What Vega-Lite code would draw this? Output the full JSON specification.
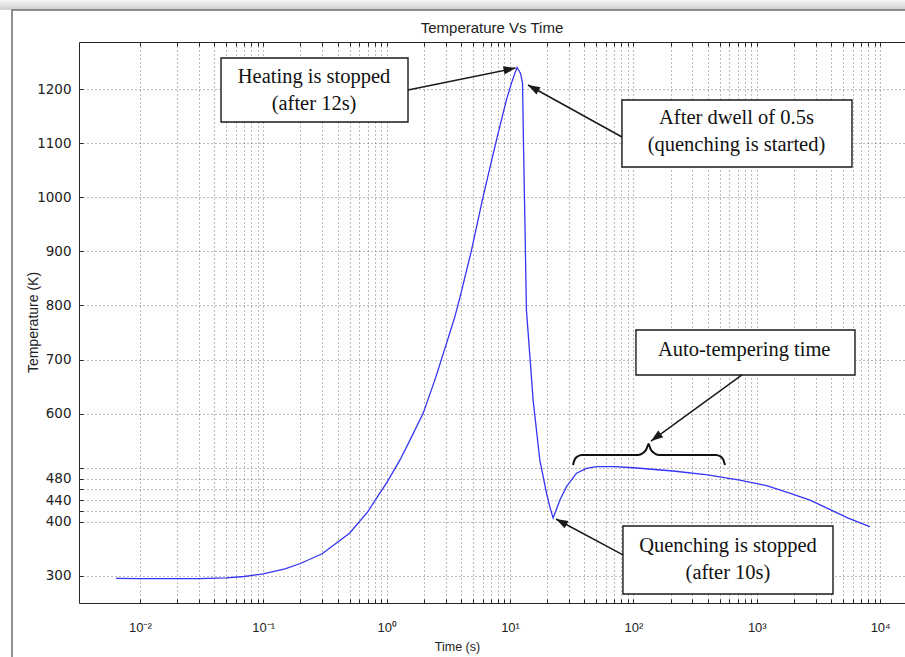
{
  "$schema": "https://vega.github.io/schema/vega-lite/v6.json",
  "width": 826,
  "height": 561,
  "autosize": "none",
  "padding": {"left": 79, "top": 42, "right": 0, "bottom": 54},
  "background": "white",
  "config": {"view": {"stroke": null}},
  "title": {
    "text": "Temperature Vs Time",
    "font": "Liberation Sans",
    "fontSize": 15,
    "fontWeight": "normal",
    "color": "#222222",
    "anchor": "middle",
    "frame": "group",
    "baseline": "alphabetic",
    "offset": -48
  },
  "datasets": {
    "curve": [
      {"t": 0.0064, "T": 295.5}, {"t": 0.01, "T": 295}, {"t": 0.02, "T": 295}, {"t": 0.03, "T": 295},
      {"t": 0.05, "T": 296.5}, {"t": 0.07, "T": 299}, {"t": 0.1, "T": 304}, {"t": 0.15, "T": 313},
      {"t": 0.2, "T": 323}, {"t": 0.3, "T": 341}, {"t": 0.5, "T": 379}, {"t": 0.7, "T": 418},
      {"t": 0.88, "T": 453}, {"t": 1.0, "T": 472}, {"t": 1.28, "T": 514}, {"t": 1.5, "T": 545},
      {"t": 1.98, "T": 601}, {"t": 2.5, "T": 667}, {"t": 3.25, "T": 749}, {"t": 3.57, "T": 779},
      {"t": 4.0, "T": 822}, {"t": 4.87, "T": 902}, {"t": 6.05, "T": 1001}, {"t": 7.77, "T": 1106},
      {"t": 9.35, "T": 1180}, {"t": 10.28, "T": 1211}, {"t": 10.94, "T": 1229}, {"t": 11.41, "T": 1240},
      {"t": 12.17, "T": 1229}, {"t": 12.63, "T": 1211}, {"t": 12.84, "T": 1106}, {"t": 13.18, "T": 964},
      {"t": 13.58, "T": 792}, {"t": 14.5, "T": 705}, {"t": 15.39, "T": 625}, {"t": 17.44, "T": 514},
      {"t": 19.76, "T": 453}, {"t": 21.0, "T": 428}, {"t": 22.36, "T": 407}, {"t": 25.33, "T": 440},
      {"t": 28.7, "T": 465}, {"t": 34.6, "T": 490}, {"t": 41.7, "T": 499}, {"t": 50, "T": 502},
      {"t": 70, "T": 502}, {"t": 100, "T": 500}, {"t": 210, "T": 494}, {"t": 400, "T": 487},
      {"t": 728, "T": 477}, {"t": 1200, "T": 467}, {"t": 1850, "T": 453}, {"t": 2700, "T": 440},
      {"t": 3900, "T": 423}, {"t": 5500, "T": 407}, {"t": 8240, "T": 391}
    ],
    "boxes": [
      {"t0": 0.04545, "t1": 1.49, "T0": 1139.1, "T1": 1257.4},
      {"t0": 80.8, "t1": 5910, "T0": 1055.9, "T1": 1179.8},
      {"t0": 104.9, "t1": 6252, "T0": 671.5, "T1": 754.7},
      {"t0": 82.3, "t1": 4147, "T0": 266.7, "T1": 392.4}
    ],
    "notes": [
      {"t": 0.258, "T": 1222.3, "note": "Heating is stopped\n(after 12s)"},
      {"t": 684.8, "T": 1145.6, "note": "After dwell of 0.5s\n(quenching is started)"},
      {"t": 790.7, "T": 717.7, "note": "Auto-tempering time"},
      {"t": 584.5, "T": 355.4, "note": "Quenching is stopped\n(after 10s)"}
    ],
    "arrows": [
      {"id": "a1", "t0": 1.49, "T0": 1198.3, "t": 11.08, "T": 1238.9},
      {"id": "a2", "t0": 80.8, "T0": 1111.4, "t": 13.98, "T": 1207.5},
      {"id": "a3", "t0": 759, "T0": 671.5, "t": 138.9, "T": 549.4},
      {"id": "a4", "t0": 82.3, "T0": 338.8, "t": 23.58, "T": 405.3}
    ],
    "brace": [
      {"k": 1, "t": 32.38, "T": 505.1}, {"k": 2, "t": 33.3, "T": 514.3}, {"k": 3, "t": 35.24, "T": 520.8},
      {"k": 4, "t": 38.31, "T": 523.6}, {"k": 5, "t": 108.9, "T": 523.6}, {"k": 6, "t": 119.6, "T": 527.3},
      {"k": 7, "t": 127.7, "T": 534.7}, {"k": 8, "t": 132.6, "T": 543.9}, {"k": 9, "t": 137.6, "T": 534.7},
      {"k": 10, "t": 146.9, "T": 527.3}, {"k": 11, "t": 161.2, "T": 523.6}, {"k": 12, "t": 467.0, "T": 523.6},
      {"k": 13, "t": 508.0, "T": 520.8}, {"k": 14, "t": 537.3, "T": 514.3}, {"k": 15, "t": 552.5, "T": 505.1}
    ],
    "frame": [{"t0": 0.000919, "t1": 100000, "T0": 100, "T1": 1346.2}],
    "shade": [{"t0": 0.0003, "t1": 100000, "T0": 1346.2, "T1": 1364.6}]
  },
  "layer": [
    {
      "data": {"name": "curve"},
      "mark": {"type": "line", "color": "#3434f6", "strokeWidth": 1.3},
      "encoding": {
        "x": {
          "field": "t", "type": "quantitative",
          "scale": {"type": "log", "domain": [0.00321, 15900], "nice": false},
          "axis": {
            "orient": "bottom",
            "values": [0.01, 0.02, 0.03, 0.04, 0.05, 0.06, 0.07, 0.08, 0.09, 0.1, 0.2, 0.3, 0.4, 0.5, 0.6, 0.7, 0.8, 0.9, 1, 2, 3, 4, 5, 6, 7, 8, 9, 10, 20, 30, 40, 50, 60, 70, 80, 90, 100, 200, 300, 400, 500, 600, 700, 800, 900, 1000, 2000, 3000, 4000, 5000, 6000, 7000, 8000, 9000, 10000],
            "labelExpr": "datum.value == 0.01 ? '10⁻²' : datum.value == 0.1 ? '10⁻¹' : datum.value == 1 ? '10⁰' : datum.value == 10 ? '10¹' : datum.value == 100 ? '10²' : datum.value == 1000 ? '10³' : datum.value == 10000 ? '10⁴' : ''",
            "labelOverlap": false,
            "labelFlush": false,
            "labelFont": "Liberation Sans",
            "labelFontSize": 13,
            "labelColor": "#222222",
            "labelBaseline": "top",
            "labelPadding": 22,
            "tickSize": -4,
            "tickColor": "#262626",
            "domainColor": "#262626",
            "grid": true,
            "gridColor": "#555555",
            "gridDash": [1, 3],
            "gridOpacity": 0.8,
            "title": "Time (s)",
            "titleFont": "Liberation Sans",
            "titleFontSize": 12.5,
            "titleFontWeight": "normal",
            "titleColor": "#222222",
            "titleX": 378,
            "titleY": 47,
            "titleBaseline": "alphabetic"
          }
        },
        "y": {
          "field": "T", "type": "quantitative",
          "scale": {"domain": [250, 1287], "nice": false, "zero": false},
          "axis": {
            "orient": "left",
            "values": [300, 400, 420, 440, 460, 480, 500, 600, 700, 800, 900, 1000, 1100, 1200],
            "format": "d",
            "labelExpr": "datum.value == 420 || datum.value == 460 || datum.value == 500 ? '' : datum.label",
            "labelOverlap": false,
            "labelFont": "DejaVu Sans",
            "labelFontSize": 13.5,
            "labelColor": "#222222",
            "labelPadding": 12,
            "tickSize": -4,
            "tickColor": "#262626",
            "domainColor": "#262626",
            "grid": true,
            "gridColor": "#555555",
            "gridDash": [1, 3],
            "gridOpacity": 0.8,
            "title": "Temperature (K)",
            "titleFont": "Liberation Sans",
            "titleFontSize": 14,
            "titleFontWeight": "normal",
            "titleColor": "#222222",
            "titleX": -42,
            "titleY": 280,
            "titleAlign": "center",
            "titleBaseline": "alphabetic"
          }
        }
      }
    },
    {
      "data": {"name": "curve"},
      "mark": {"type": "line", "strokeOpacity": 0},
      "encoding": {
        "x": {
          "field": "t", "type": "quantitative",
          "scale": {"type": "log", "domain": [0.00321, 15900], "nice": false},
          "axis": {
            "orient": "top",
            "values": [0.01, 0.02, 0.03, 0.04, 0.05, 0.06, 0.07, 0.08, 0.09, 0.1, 0.2, 0.3, 0.4, 0.5, 0.6, 0.7, 0.8, 0.9, 1, 2, 3, 4, 5, 6, 7, 8, 9, 10, 20, 30, 40, 50, 60, 70, 80, 90, 100, 200, 300, 400, 500, 600, 700, 800, 900, 1000, 2000, 3000, 4000, 5000, 6000, 7000, 8000, 9000, 10000],
            "labels": false,
            "grid": false,
            "tickSize": -4,
            "tickColor": "#262626",
            "domainColor": "#262626",
            "title": null
          }
        },
        "y": {"field": "T", "type": "quantitative", "scale": {"domain": [250, 1287], "nice": false, "zero": false}, "axis": null}
      }
    },
    {
      "data": {"name": "shade"},
      "mark": {"type": "rect", "clip": false, "fill": {"gradient": "linear", "x1": 0, "y1": 0, "x2": 0, "y2": 1, "stops": [{"offset": 0, "color": "#f4f4f4"}, {"offset": 1, "color": "#cfcfcf"}]}},
      "encoding": {
        "x": {"field": "t0", "type": "quantitative", "scale": {"type": "log", "domain": [0.00321, 15900], "nice": false}, "axis": null},
        "x2": {"field": "t1"},
        "y": {"field": "T0", "type": "quantitative", "scale": {"domain": [250, 1287], "nice": false, "zero": false}, "axis": null},
        "y2": {"field": "T1"}
      }
    },
    {
      "data": {"name": "frame"},
      "mark": {"type": "rect", "clip": false, "fill": null, "stroke": "#6e6e6e", "strokeWidth": 1.5},
      "encoding": {
        "x": {"field": "t0", "type": "quantitative", "scale": {"type": "log", "domain": [0.00321, 15900], "nice": false}, "axis": null},
        "x2": {"field": "t1"},
        "y": {"field": "T0", "type": "quantitative", "scale": {"domain": [250, 1287], "nice": false, "zero": false}, "axis": null},
        "y2": {"field": "T1"}
      }
    },
    {
      "data": {"name": "boxes"},
      "mark": {"type": "rect", "fill": "white", "stroke": "#1a1a1a", "strokeWidth": 1.4},
      "encoding": {
        "x": {"field": "t0", "type": "quantitative", "scale": {"type": "log", "domain": [0.00321, 15900], "nice": false}, "axis": null},
        "x2": {"field": "t1"},
        "y": {"field": "T0", "type": "quantitative", "scale": {"domain": [250, 1287], "nice": false, "zero": false}, "axis": null},
        "y2": {"field": "T1"}
      }
    },
    {
      "data": {"name": "notes"},
      "mark": {"type": "text", "font": "Liberation Serif", "fontSize": 20.5, "lineBreak": "\n", "lineHeight": 27, "align": "center", "baseline": "middle", "color": "#111111"},
      "encoding": {
        "x": {"field": "t", "type": "quantitative", "scale": {"type": "log", "domain": [0.00321, 15900], "nice": false}, "axis": null},
        "y": {"field": "T", "type": "quantitative", "scale": {"domain": [250, 1287], "nice": false, "zero": false}, "axis": null},
        "text": {"field": "note"}
      }
    },
    {
      "data": {"name": "arrows"},
      "mark": {"type": "rule", "color": "#1a1a1a", "strokeWidth": 1.5},
      "encoding": {
        "x": {"field": "t0", "type": "quantitative", "scale": {"type": "log", "domain": [0.00321, 15900], "nice": false}, "axis": null},
        "x2": {"field": "t"},
        "y": {"field": "T0", "type": "quantitative", "scale": {"domain": [250, 1287], "nice": false, "zero": false}, "axis": null},
        "y2": {"field": "T"}
      }
    },
    {
      "data": {"name": "arrows"},
      "transform": [{"filter": "datum.id == 'a1'"}],
      "mark": {"type": "point", "shape": "M0,0L-0.35,1L0.35,1Z", "size": 576, "filled": true, "opacity": 1, "color": "#1a1a1a", "angle": 78.4},
      "encoding": {
        "x": {"field": "t", "type": "quantitative", "scale": {"type": "log", "domain": [0.00321, 15900], "nice": false}, "axis": null},
        "y": {"field": "T", "type": "quantitative", "scale": {"domain": [250, 1287], "nice": false, "zero": false}, "axis": null}
      }
    },
    {
      "data": {"name": "arrows"},
      "transform": [{"filter": "datum.id == 'a2'"}],
      "mark": {"type": "point", "shape": "M0,0L-0.35,1L0.35,1Z", "size": 576, "filled": true, "opacity": 1, "color": "#1a1a1a", "angle": 298.9},
      "encoding": {
        "x": {"field": "t", "type": "quantitative", "scale": {"type": "log", "domain": [0.00321, 15900], "nice": false}, "axis": null},
        "y": {"field": "T", "type": "quantitative", "scale": {"domain": [250, 1287], "nice": false, "zero": false}, "axis": null}
      }
    },
    {
      "data": {"name": "arrows"},
      "transform": [{"filter": "datum.id == 'a3'"}],
      "mark": {"type": "point", "shape": "M0,0L-0.35,1L0.35,1Z", "size": 576, "filled": true, "opacity": 1, "color": "#1a1a1a", "angle": 234},
      "encoding": {
        "x": {"field": "t", "type": "quantitative", "scale": {"type": "log", "domain": [0.00321, 15900], "nice": false}, "axis": null},
        "y": {"field": "T", "type": "quantitative", "scale": {"domain": [250, 1287], "nice": false, "zero": false}, "axis": null}
      }
    },
    {
      "data": {"name": "arrows"},
      "transform": [{"filter": "datum.id == 'a4'"}],
      "mark": {"type": "point", "shape": "M0,0L-0.35,1L0.35,1Z", "size": 576, "filled": true, "opacity": 1, "color": "#1a1a1a", "angle": 298.3},
      "encoding": {
        "x": {"field": "t", "type": "quantitative", "scale": {"type": "log", "domain": [0.00321, 15900], "nice": false}, "axis": null},
        "y": {"field": "T", "type": "quantitative", "scale": {"domain": [250, 1287], "nice": false, "zero": false}, "axis": null}
      }
    },
    {
      "data": {"name": "brace"},
      "mark": {"type": "line", "color": "#111111", "strokeWidth": 2, "interpolate": "monotone"},
      "encoding": {
        "x": {"field": "t", "type": "quantitative", "scale": {"type": "log", "domain": [0.00321, 15900], "nice": false}, "axis": null},
        "y": {"field": "T", "type": "quantitative", "scale": {"domain": [250, 1287], "nice": false, "zero": false}, "axis": null},
        "order": {"field": "k", "type": "quantitative"}
      }
    }
  ],
  "resolve": {"axis": {"x": "independent", "y": "independent"}}
}
